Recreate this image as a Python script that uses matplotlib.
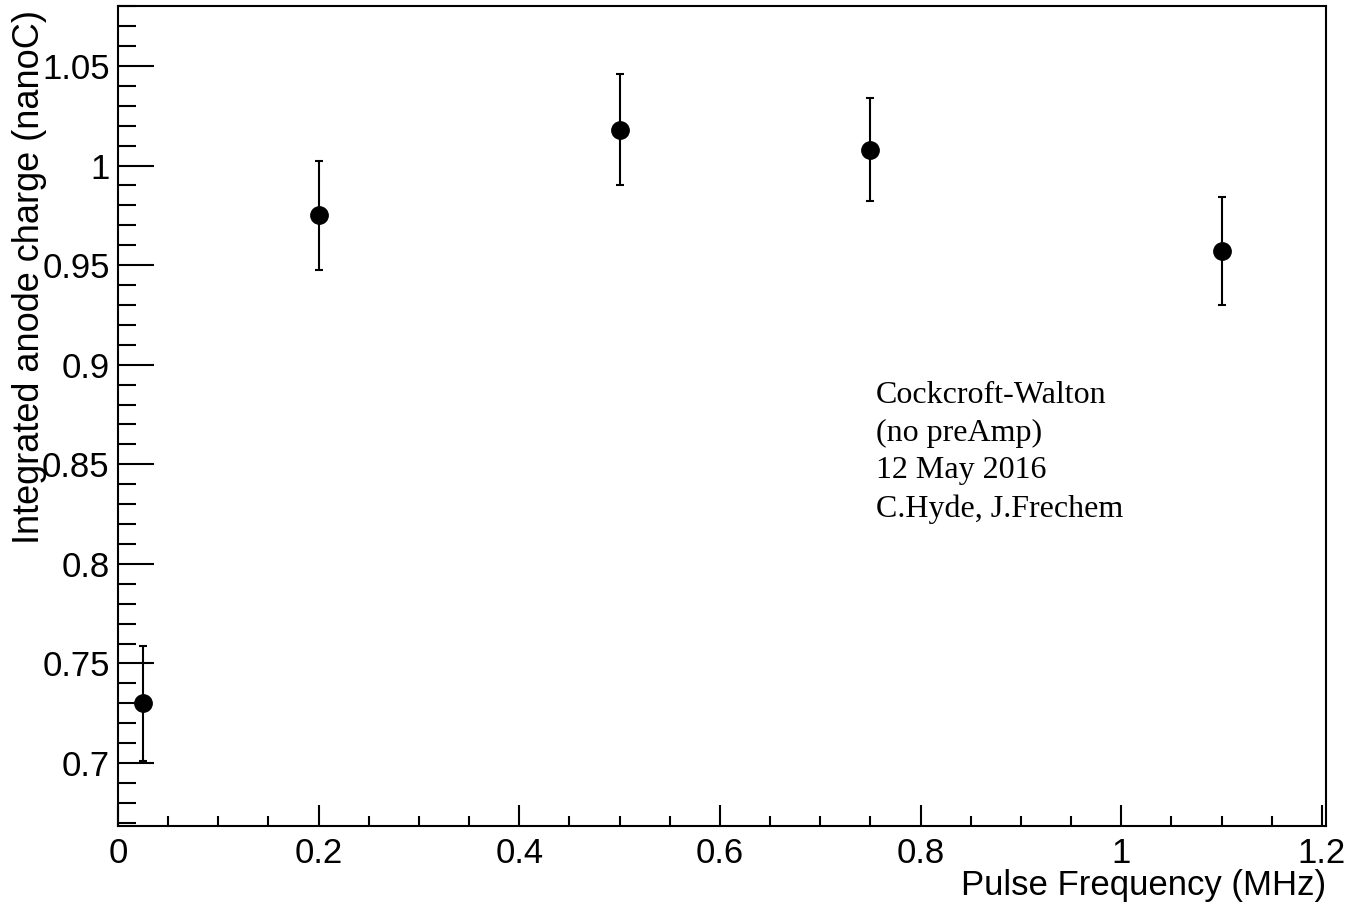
import matplotlib
matplotlib.use("Agg")
import matplotlib.pyplot as plt
from matplotlib.ticker import MultipleLocator

# pulse frequency (MHz) and integrated anode charge (nanoC)
freq = [0.025, 0.2, 0.5, 0.75, 1.1]
charge = [0.730, 0.975, 1.018, 1.008, 0.957]
charge_err = [0.029, 0.0275, 0.028, 0.026, 0.027]

note_lines = ["Cockcroft-Walton", "(no preAmp)", "12 May 2016", "C.Hyde, J.Frechem"]

plt.rcParams["font.family"] = ["Liberation Sans", "DejaVu Sans"]

fig = plt.figure(figsize=(13.52, 9.07), dpi=100)
ax = fig.add_axes([118 / 1352, 81 / 907, 1208 / 1352, 820 / 907])

ax.errorbar(freq, charge, yerr=charge_err, fmt="o", color="black",
            markersize=12.5, elinewidth=1.5, capsize=3, capthick=1.5)

ax.set_xlim(0, 1.204)
ax.set_ylim(0.6684, 1.0801)

ax.xaxis.set_major_locator(MultipleLocator(0.2))
ax.xaxis.set_minor_locator(MultipleLocator(0.05))
ax.yaxis.set_major_locator(MultipleLocator(0.05))
ax.yaxis.set_minor_locator(MultipleLocator(0.01))
ax.set_xticks([0, 0.2, 0.4, 0.6, 0.8, 1.0, 1.2])
ax.set_xticklabels(["0", "0.2", "0.4", "0.6", "0.8", "1", "1.2"])
ax.set_yticks([0.7, 0.75, 0.8, 0.85, 0.9, 0.95, 1.0, 1.05])
ax.set_yticklabels(["0.7", "0.75", "0.8", "0.85", "0.9", "0.95", "1", "1.05"])

ax.tick_params(axis="both", which="both", direction="in", width=1.5,
               labelsize=25, top=False, right=False)
ax.tick_params(axis="x", which="major", length=15, pad=8)
ax.tick_params(axis="x", which="minor", length=7.5)
ax.tick_params(axis="y", which="major", length=26, pad=6)
ax.tick_params(axis="y", which="minor", length=13)
for sp in ax.spines.values():
    sp.set_linewidth(1.5)

ax.set_xlabel("Pulse Frequency (MHz)", fontsize=25, loc="right")
ax.xaxis.set_label_coords(1.0, -0.053)
ax.set_ylabel("Integrated anode charge (nanoC)", fontsize=26, loc="top")
ax.yaxis.set_label_coords(-0.059, 0.995)

ax.text(0.6275, (826 - 381) / 820, "\n".join(note_lines), transform=ax.transAxes,
        ha="left", va="top", fontsize=23, family="Liberation Serif",
        linespacing=1.39)

fig.savefig("out.png", dpi=100)
